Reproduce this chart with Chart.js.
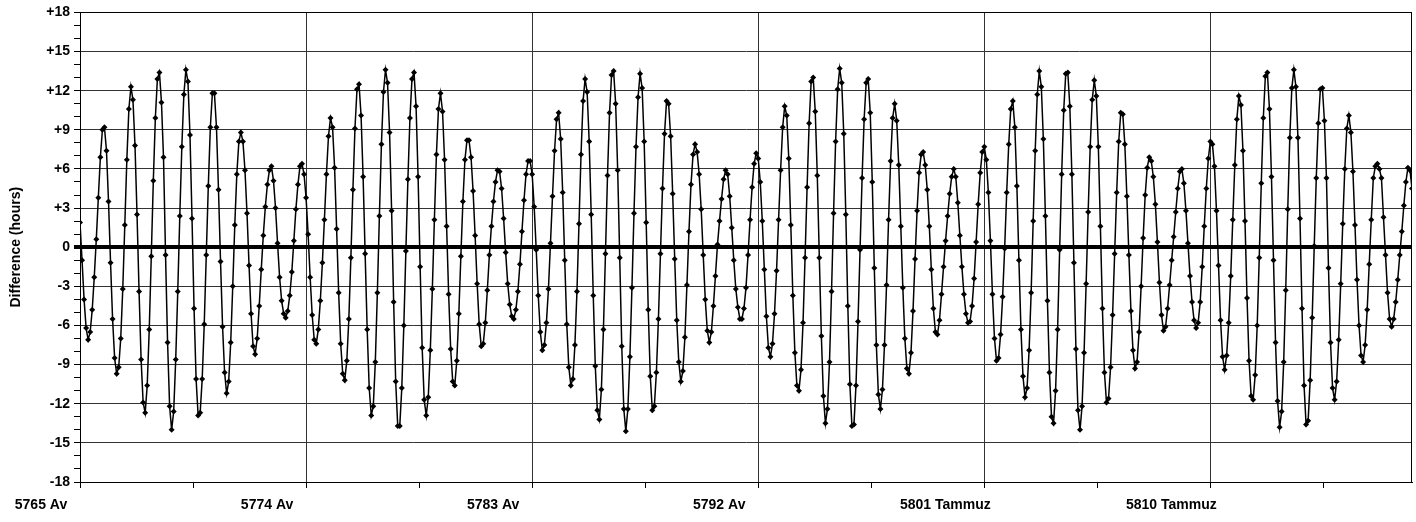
<!DOCTYPE html>
<html>
<head>
<meta charset="utf-8">
<script src="https://cdn.jsdelivr.net/npm/chart.js@4.4.0/dist/chart.umd.min.js"></script>
<style>
  html, body { margin: 0; padding: 0; background: #fff; }
  #wrap { width: 1416px; height: 522px; }
</style>
</head>
<body>
<div id="wrap"><canvas id="chart" width="1416" height="522"></canvas></div>
<script>
// difference in hours, one value per month
const hours = [
  1.9, -1.0, -4.0, -6.2, -7.1, -6.5, -4.8, -2.3, 0.6, 3.8, 6.9, 9.0, 9.2, 7.4, 3.5, -1.2, -5.5, -8.5, -9.7, -9.2,
  -7.0, -3.2, 1.7, 6.7, 10.6, 12.3, 11.3, 7.8, 2.5, -3.4, -8.6, -11.9, -12.7, -10.6, -6.3, -0.7, 5.1, 9.9, 12.9, 13.4,
  11.1, 6.9, -0.6, -7.3, -12.2, -14.0, -12.6, -8.6, -3.4, 2.4, 7.7, 11.7, 13.6, 12.7, 8.6, 2.2, -4.7, -10.1, -12.9, -12.7,
  -10.1, -5.9, -0.6, 4.7, 9.2, 11.8, 11.8, 9.2, 4.4, -1.1, -6.1, -9.6, -11.2, -10.3, -7.3, -3.0, 1.7, 5.6, 8.1, 8.8,
  8.1, 5.9, 2.6, -1.4, -5.1, -7.6, -8.2, -7.0, -4.5, -1.7, 0.9, 3.1, 4.8, 5.9, 6.2, 5.1, 3.0, 0.3, -2.3, -4.1,
  -5.1, -5.4, -4.9, -3.7, -1.9, 0.5, 2.9, 4.8, 6.2, 6.4, 5.6, 3.8, 1.0, -2.3, -5.2, -7.1, -7.4, -6.3, -4.1, -1.2,
  2.1, 5.6, 8.5, 9.9, 9.2, 6.1, 1.4, -3.5, -7.4, -9.7, -10.2, -8.7, -5.5, -0.8, 4.4, 9.1, 12.1, 12.5, 10.1, 5.4,
  -0.5, -6.3, -10.8, -12.9, -12.2, -8.8, -3.5, 2.4, 7.9, 11.9, 13.6, 12.6, 8.8, 2.8, -4.2, -10.3, -13.7, -13.7, -10.8, -6.0,
  -0.3, 5.2, 9.9, 12.9, 13.4, 10.8, 5.4, -1.5, -7.7, -11.7, -12.9, -11.5, -7.9, -3.2, 2.1, 7.1, 10.6, 11.8, 10.4, 6.7,
  1.6, -3.6, -7.8, -10.3, -10.6, -8.7, -5.1, -0.7, 3.5, 6.7, 8.2, 8.2, 6.9, 4.3, 0.9, -2.8, -5.9, -7.6, -7.4, -5.8,
  -3.3, -0.6, 1.6, 3.5, 5.0, 5.9, 5.8, 4.5, 2.2, -0.4, -2.8, -4.4, -5.3, -5.5, -4.8, -3.4, -1.3, 1.2, 3.6, 5.6,
  6.6, 6.6, 5.6, 3.1, -0.2, -3.7, -6.5, -7.9, -7.5, -5.8, -3.2, 0.3, 3.9, 7.4, 9.8, 10.3, 8.3, 4.2, -1.0, -5.9,
  -9.2, -10.6, -10.1, -7.5, -3.4, 1.8, 7.1, 11.2, 12.9, 11.9, 8.1, 2.5, -3.7, -9.1, -12.5, -13.2, -10.9, -6.3, -0.5, 5.5,
  10.3, 13.2, 13.5, 11.0, 5.9, -0.8, -7.6, -12.4, -14.1, -12.4, -8.4, -3.1, 2.6, 7.7, 11.5, 13.3, 12.2, 8.1, 1.9, -4.8,
  -9.9, -12.5, -12.2, -9.6, -5.5, -0.5, 4.5, 8.7, 11.2, 11.0, 8.5, 4.1, -0.9, -5.6, -8.8, -10.3, -9.5, -6.9, -2.9, 1.2,
  4.8, 7.1, 7.9, 7.3, 5.6, 2.9, -0.6, -4.0, -6.4, -7.3, -6.5, -4.5, -2.2, 0.2, 2.0, 3.7, 5.2, 5.9, 5.6, 3.9,
  1.5, -1.0, -3.2, -4.6, -5.5, -5.5, -4.7, -3.1, -0.6, 2.1, 4.6, 6.4, 7.2, 6.8, 5.0, 2.0, -1.7, -5.3, -7.7, -8.4,
  -7.4, -5.1, -1.8, 2.1, 5.9, 9.2, 10.8, 10.1, 6.8, 1.7, -3.7, -8.1, -10.6, -11.0, -9.4, -5.8, -0.8, 4.6, 9.5, 12.7,
  13.0, 10.4, 5.5, -0.8, -6.8, -11.4, -13.5, -12.4, -8.8, -3.4, 2.6, 8.1, 12.1, 13.7, 12.6, 8.7, 2.5, -4.5, -10.5, -13.7,
  -13.6, -10.6, -5.7, -0.2, 5.3, 9.8, 12.6, 12.9, 10.3, 5.0, -1.6, -7.5, -11.3, -12.4, -10.9, -7.5, -2.9, 2.1, 6.6, 9.9,
  11.0, 9.7, 6.3, 1.6, -3.1, -7.0, -9.3, -9.7, -8.1, -4.9, -0.9, 2.8, 5.7, 7.1, 7.3, 6.3, 4.4, 1.6, -1.7, -4.7,
  -6.5, -6.7, -5.6, -3.6, -1.5, 0.5, 2.4, 4.1, 5.4, 6.0, 5.4, 3.4, 0.9, -1.5, -3.6, -5.1, -5.8, -5.7, -4.5, -2.4,
  0.4, 3.3, 5.7, 7.3, 7.7, 6.7, 4.2, 0.5, -3.6, -7.0, -8.7, -8.5, -6.7, -3.8, -0.1, 4.2, 7.9, 10.6, 11.2, 9.2,
  4.7, -1.0, -6.3, -9.9, -11.5, -10.8, -7.9, -3.5, 2.0, 7.4, 11.7, 13.5, 12.3, 8.3, 2.4, -4.1, -9.6, -13.0, -13.5, -11.0,
  -6.3, -0.2, 5.6, 10.5, 13.3, 13.4, 10.8, 5.6, -1.2, -7.8, -12.5, -14.0, -12.2, -8.1, -2.8, 2.7, 7.7, 11.3, 12.8, 11.6,
  7.7, 1.6, -4.7, -9.6, -11.9, -11.6, -9.2, -5.2, -0.5, 4.2, 8.1, 10.3, 10.2, 7.9, 3.9, -0.6, -4.9, -7.9, -9.3, -8.8,
  -6.5, -3.0, 0.7, 4.0, 6.1, 6.9, 6.6, 5.4, 3.3, 0.4, -2.7, -5.2, -6.4, -6.1, -4.7, -2.9, -1.0, 0.8, 2.7, 4.5,
  5.8, 6.0, 4.9, 2.8, 0.3, -2.2, -4.2, -5.6, -6.2, -5.8, -4.2, -1.5, 1.6, 4.5, 6.8, 8.1, 7.9, 6.2, 2.8, -1.4,
  -5.6, -8.4, -9.4, -8.3, -5.8, -2.2, 2.1, 6.3, 9.8, 11.6, 10.9, 7.4, 2.0, -3.9, -8.7, -11.4, -11.7, -9.8, -6.0, -0.8,
  4.9, 9.9, 13.1, 13.4, 10.6, 5.4, -1.0, -7.3, -11.8, -13.8, -12.6, -8.8, -3.3, 2.9, 8.4, 12.2, 13.6, 12.3, 8.4, 2.2,
  -4.7, -10.6, -13.6, -13.3, -10.2, -5.4, 0.1, 5.3, 9.5, 12.1, 12.2, 9.7, 5.3, -1.6, -7.3, -10.8, -11.7, -10.3, -7.1, -2.8,
  1.8, 6.0, 9.1, 10.1, 8.8, 5.8, 1.7, -2.5, -6.0, -8.3, -8.8, -7.5, -4.8, -1.3, 2.1, 5.3, 6.2, 6.4, 6.0, 5.3,
  2.3, -0.6, -3.5, -5.5, -6.1, -5.5, -4.2, -2.5, -0.6, 1.2, 3.2, 5.0, 6.1, 5.9, 4.5
];

// category label every 111 months, ticks every half of that
const monthLabels = ['5765 Av', '5774 Av', '5783 Av', '5792 Av', '5801 Tammuz', '5810 Tammuz'];
const labelEvery = 111;
const yTickLabels = ['-18', '-15', '-12', '-9', '-6', '-3', '0', '+3', '+6', '+9', '+12', '+15', '+18'];

const font = { family: "'Liberation Sans', Arial, sans-serif", size: 14, weight: 'bold' };

const frame = {
  id: 'frame',
  afterDraw(chart) {
    const { ctx, chartArea: a } = chart;
    ctx.save();
    ctx.strokeStyle = '#000';
    ctx.lineWidth = 1;
    ctx.strokeRect(Math.round(a.left) + 0.5, Math.round(a.top) + 0.5, Math.round(a.right - a.left) - 1, Math.round(a.bottom - a.top));
    ctx.restore();
  }
};

new Chart(document.getElementById('chart'), {
  type: 'line',
  data: {
    datasets: [{
      data: hours.map((h, i) => ({ x: i, y: h })),
      borderColor: '#000',
      borderWidth: 1.5,
      backgroundColor: '#000',
      pointStyle: 'rectRot',
      pointRadius: 3,
      pointBorderWidth: 0,
      tension: 0
    }]
  },
  options: {
    responsive: false,
    animation: false,
    devicePixelRatio: 1,
    layout: { padding: { left: 0, top: 8, right: 4, bottom: 0 } },
    plugins: { legend: { display: false }, tooltip: { enabled: false } },
    scales: {
      x: {
        type: 'linear',
        min: 0,
        max: hours.length - 1,
        afterBuildTicks: s => {
          const t = [];
          for (let v = 0; v < hours.length; v += labelEvery / 2) t.push({ value: v });
          s.ticks = t;
        },
        afterFit: s => { s.height = 40; },
        grid: {
          color: c => (c.tick && c.tick.value % labelEvery === 0 && c.tick.value > 0) ? '#333' : 'rgba(0,0,0,0)',
          tickColor: '#000',
          tickLength: 6,
          lineWidth: 1
        },
        border: { color: '#000', width: 1 },
        ticks: {
          autoSkip: false,
          maxRotation: 0,
          labelOffset: -39,
          padding: 9,
          color: '#000',
          font: font,
          callback: v => v % labelEvery === 0 ? monthLabels[v / labelEvery] : ''
        }
      },
      y: {
        min: -18,
        max: 18,
        afterBuildTicks: s => {
          const t = [];
          for (let v = -18; v <= 18; v++) t.push({ value: v });
          s.ticks = t;
        },
        afterFit: s => { s.width = 80; },
        grid: {
          color: c => {
            const v = c.tick ? c.tick.value : 1;
            if (v === 0) return '#000';
            return v % 3 === 0 ? '#333' : 'rgba(0,0,0,0)';
          },
          lineWidth: c => (c.tick && c.tick.value === 0) ? 4 : 1,
          tickColor: '#000',
          tickLength: 6
        },
        border: { color: '#000', width: 1 },
        ticks: {
          autoSkip: false,
          padding: 4,
          color: '#000',
          font: font,
          callback: v => v % 3 === 0 ? yTickLabels[(v + 18) / 3] : ''
        },
        title: {
          display: true,
          text: 'Difference (hours)',
          color: '#000',
          font: font,
          padding: { top: 8, bottom: 0 }
        }
      }
    }
  },
  plugins: [frame]
});
</script>
</body>
</html>
